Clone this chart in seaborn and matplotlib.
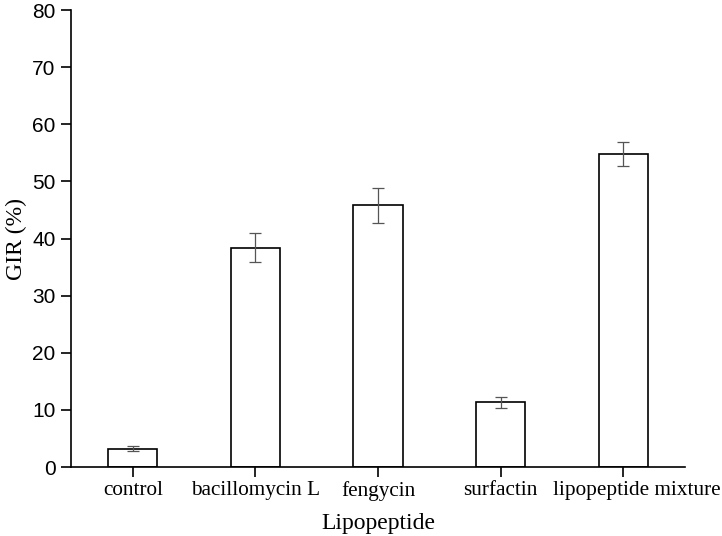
import matplotlib
matplotlib.use("Agg")
import matplotlib.pyplot as plt
import matplotlib.transforms as mtransforms
import seaborn as sns
import pandas as pd

categories = ["control", "bacillomycin L", "fengycin", "surfactin", "lipopeptide mixture"]
gir = [3.2, 38.4, 45.8, 11.3, 54.8]
err = [0.4, 2.5, 3.1, 1.0, 2.1]
yticks = [0, 10, 20, 30, 40, 50, 60, 70, 80]

sns.set_style("ticks")
plt.rcParams["text.color"] = "black"
plt.rcParams["axes.labelcolor"] = "black"
plt.rcParams["xtick.color"] = "black"
plt.rcParams["ytick.color"] = "black"
df = pd.DataFrame({"Lipopeptide": categories, "GIR": gir})

fig = plt.figure(figsize=(7.22, 5.36), dpi=100)
ax = fig.add_axes([0.0983, 0.1287, 0.8505, 0.8526])

sns.barplot(data=df, x="Lipopeptide", y="GIR", ax=ax, color="white",
            edgecolor="black", linewidth=1.2, width=0.4, errorbar=None)
ax.errorbar(range(len(categories)), gir, yerr=err, fmt="none",
            ecolor="#555555", elinewidth=0.9, capsize=4.5, capthick=0.9)

ax.set_xlim(-0.506, 4.506)
ax.set_ylim(0, 80)
ax.set_yticks(yticks)
ax.set_yticklabels([str(v) for v in yticks], family="Liberation Sans", fontsize=15, color="black")
ax.set_xticks(range(len(categories)))
ax.set_xticklabels(categories, family="Liberation Serif", fontsize=15.3, color="black")
ax.set_xlabel("Lipopeptide", family="Liberation Serif", fontsize=17, labelpad=9, color="black")
ax.set_ylabel("GIR (%)", family="Liberation Serif", fontsize=17, labelpad=4, color="black")
ax.tick_params(axis="both", direction="out", length=7, width=1.2, color="black")
ax.tick_params(axis="x", pad=3)
ax.tick_params(axis="y", pad=4)
for s in ["top", "right"]:
    ax.spines[s].set_visible(False)
for s in ["left", "bottom"]:
    ax.spines[s].set_linewidth(1.2)
    ax.spines[s].set_color("black")

# last label sits a little right of its tick in the reference
last = ax.get_xticklabels()[-1]
last.set_transform(last.get_transform() + mtransforms.ScaledTranslation(14 / 100, 0, fig.dpi_scale_trans))

fig.savefig("out.png", dpi=100)
